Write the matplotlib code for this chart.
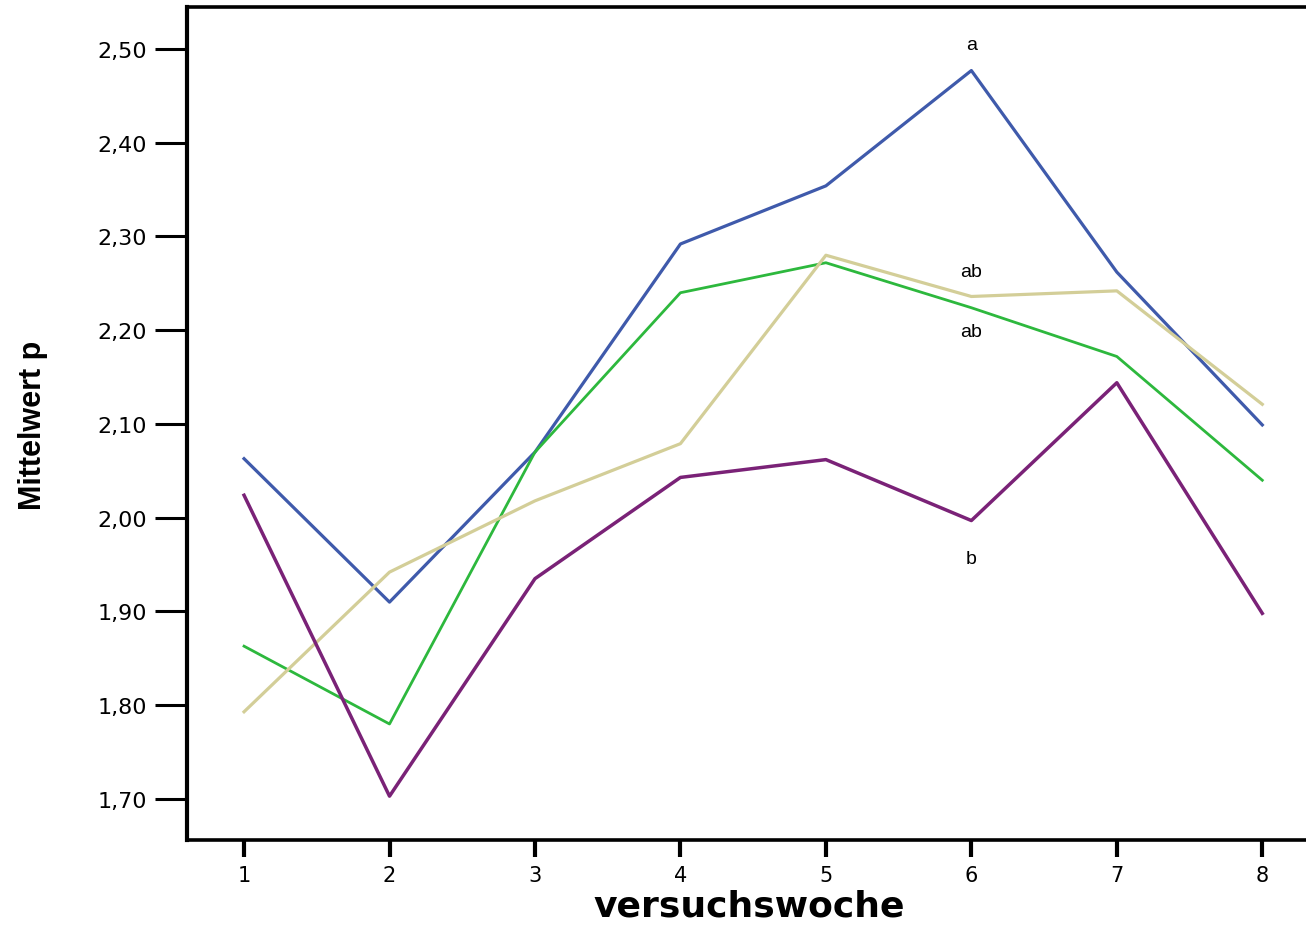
import matplotlib
matplotlib.use("Agg")
import matplotlib.pyplot as plt

# Versuchswoche 1..8, Mittelwert p je Gruppe
wochen = [1, 2, 3, 4, 5, 6, 7, 8]
blau = [2.063, 1.910, 2.070, 2.292, 2.354, 2.477, 2.262, 2.099]
gruen = [1.863, 1.780, 2.070, 2.240, 2.272, 2.224, 2.172, 2.040]
beige = [1.793, 1.942, 2.018, 2.079, 2.280, 2.236, 2.242, 2.121]
lila = [2.024, 1.703, 1.935, 2.043, 2.062, 1.997, 2.144, 1.898]

# Buchstaben an Woche 6
buchstaben = ["a", "ab", "ab", "b"]
buchstaben_y = [2.505, 2.263, 2.199, 1.957]

yticks = [1.70, 1.80, 1.90, 2.00, 2.10, 2.20, 2.30, 2.40, 2.50]
ytick_labels = [f"{v:.2f}".replace(".", ",") for v in yticks]

fig = plt.figure(figsize=(13.06, 9.28), dpi=100)
ax = fig.add_axes([0.1432, 0.0938, 0.87, 0.8976])

ax.plot(wochen, blau, color="#3f5aab", lw=2.3)
ax.plot(wochen, gruen, color="#2db83d", lw=2.0)
ax.plot(wochen, beige, color="#d3ce98", lw=2.3)
ax.plot(wochen, lila, color="#7a2277", lw=2.5)

for t, y in zip(buchstaben, buchstaben_y):
    ax.text(6, y, t, ha="center", va="center", fontsize=14, family="Liberation Sans")

ax.set_xlim(0.608, 8.419)
ax.set_ylim(1.6563, 2.5448)

ax.set_xticks(wochen)
ax.set_xticklabels([str(w) for w in wochen])
ax.set_yticks(yticks)
ax.set_yticklabels(ytick_labels)

for s in ["left", "top", "bottom", "right"]:
    ax.spines[s].set_linewidth(2.6)
ax.spines["left"].set_linewidth(3.0)

ax.tick_params(axis="y", length=23, width=2.2, pad=6, labelsize=16)
ax.tick_params(axis="x", length=12, width=3.0, pad=6, labelsize=15)
for lab in ax.get_xticklabels() + ax.get_yticklabels():
    lab.set_family("DejaVu Sans")

fig.text(0.574, 0.0119, "versuchswoche", ha="center", va="baseline",
         fontsize=26, fontweight="bold", family="DejaVu Sans")
fig.text(0.025, 0.542, "Mittelwert p", ha="center", va="center", rotation=90,
         fontsize=22, fontweight="bold", family=["Liberation Sans", "DejaVu Sans"])

fig.savefig("out.png", dpi=100)
